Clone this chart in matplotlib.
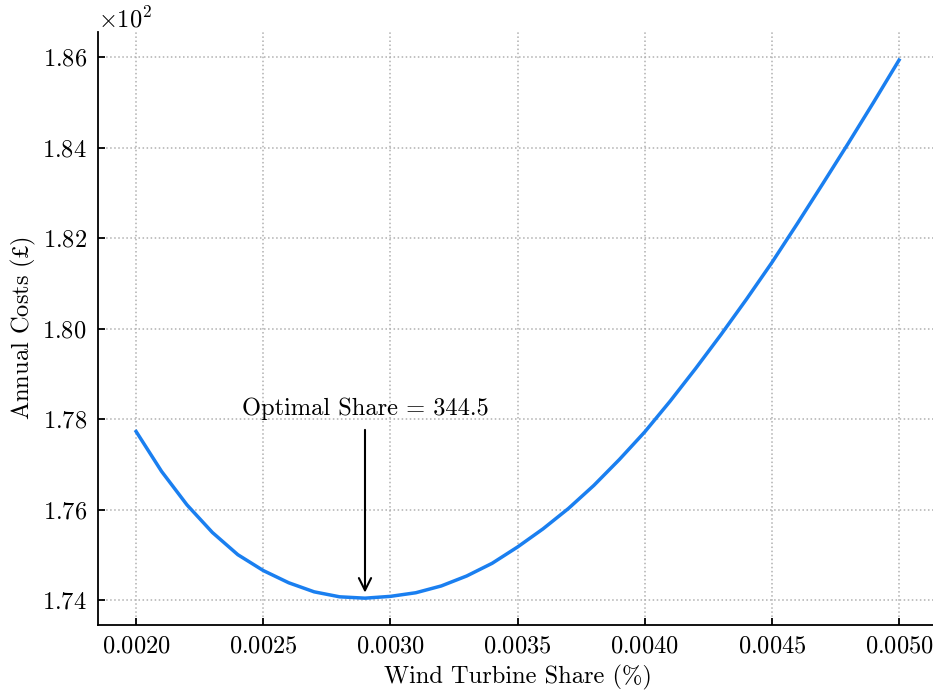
import matplotlib
matplotlib.use("Agg")
import matplotlib.pyplot as plt
from matplotlib.ticker import MultipleLocator

# Annual costs vs wind turbine share (costs in £)
share = [0.0020, 0.0021, 0.0022, 0.0023, 0.0024, 0.0025, 0.0026, 0.0027,
         0.0028, 0.0029, 0.0030, 0.0031, 0.0032, 0.0033, 0.0034, 0.0035,
         0.0036, 0.0037, 0.0038, 0.0039, 0.0040, 0.0041, 0.0042, 0.0043,
         0.0044, 0.0045, 0.0046, 0.0047, 0.0048, 0.0049, 0.0050]
costs = [177.73, 176.85, 176.11, 175.50, 175.01, 174.66, 174.39, 174.19,
         174.08, 174.05, 174.09, 174.17, 174.32, 174.54, 174.82, 175.18,
         175.58, 176.03, 176.54, 177.11, 177.72, 178.40, 179.12, 179.87,
         180.65, 181.46, 182.32, 183.20, 184.09, 185.00, 185.93]

opt_share = 0.0029
opt_cost = 174.05
opt_label = "Optimal Share = 344.5"

plt.rcParams["font.family"] = ["cmr10", "DejaVu Serif"]
plt.rcParams["mathtext.fontset"] = "cm"
plt.rcParams["axes.formatter.use_mathtext"] = True
plt.rcParams["axes.unicode_minus"] = False

fs = 17.6

fig = plt.figure(figsize=(9.33, 6.91), dpi=100)
ax = fig.add_axes([0.105, 0.096, 0.8995, 0.858])

ax.plot(share, costs, color="#1a7ff0", lw=2.5, solid_joinstyle="round")

ax.annotate(opt_label, xy=(opt_share, opt_cost), xytext=(opt_share, 177.98),
            ha="center", va="bottom", fontsize=fs,
            arrowprops=dict(arrowstyle="->", color="black", lw=1.5,
                            shrinkA=5, shrinkB=4, mutation_scale=22))

ax.set_xlim(0.00185, 0.00515)
ax.set_ylim(173.465, 186.555)
ax.xaxis.set_major_locator(MultipleLocator(0.0005))
ax.yaxis.set_major_locator(MultipleLocator(2))
ax.ticklabel_format(axis="y", style="sci", scilimits=(0, 0))

ax.set_xlabel("Wind Turbine Share (%)", fontsize=fs, labelpad=5)
# the pound sign comes from STIX, cmr10 has no glyph for it
ax.set_ylabel(r"Annual Costs ($\mathit{£}$)", fontsize=fs, labelpad=3,
              math_fontfamily="stix")

ax.grid(True, linestyle=":", color="#b0b0b0", lw=1.1)
ax.spines["top"].set_visible(False)
ax.spines["right"].set_visible(False)
for s in ("left", "bottom"):
    ax.spines[s].set_linewidth(1.3)
ax.tick_params(direction="in", length=5, width=1.3, labelsize=fs, pad=8)
ax.yaxis.get_offset_text().set_fontsize(fs)

fig.savefig("out.png", dpi=100)
